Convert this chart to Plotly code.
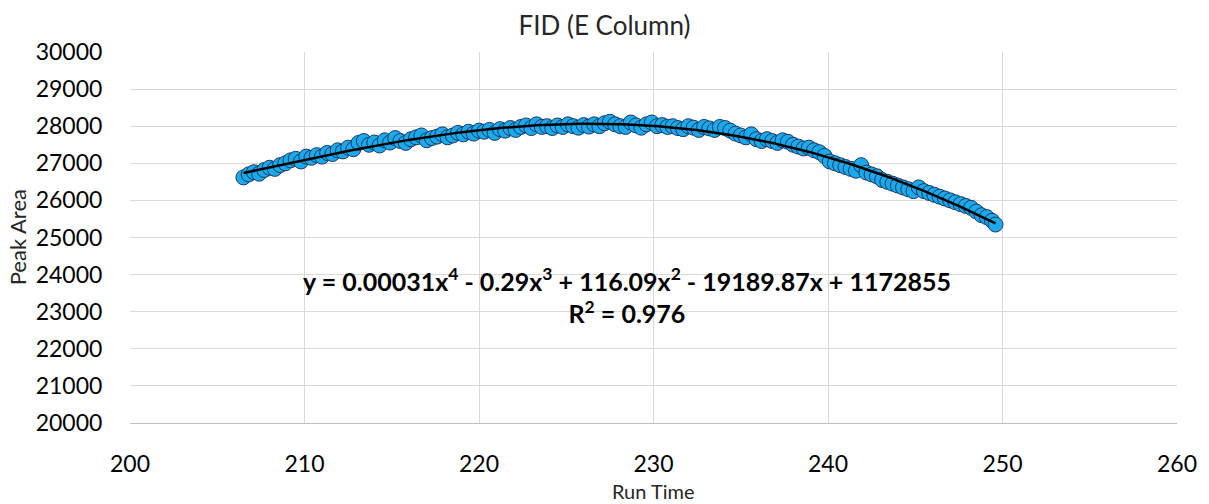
import numpy as np
import plotly.graph_objects as go

run_time = [
    206.5, 206.8, 207.1, 207.4, 207.7, 208.0, 208.3, 208.6, 208.9, 209.2,
    209.5, 209.8, 210.1, 210.4, 210.7, 211.0, 211.3, 211.6, 211.9, 212.2,
    212.5, 212.8, 213.1, 213.4, 213.7, 214.0, 214.3, 214.6, 214.9, 215.2,
    215.5, 215.8, 216.1, 216.4, 216.7, 217.0, 217.3, 217.6, 217.9, 218.2,
    218.5, 218.8, 219.1, 219.4, 219.7, 220.0, 220.3, 220.6, 220.9, 221.2,
    221.5, 221.8, 222.1, 222.4, 222.7, 223.0, 223.3, 223.6, 223.9, 224.2,
    224.5, 224.8, 225.1, 225.4, 225.7, 226.0, 226.3, 226.6, 226.9, 227.2,
    227.5, 227.8, 228.1, 228.4, 228.7, 229.0, 229.3, 229.6, 229.9, 230.2,
    230.5, 230.8, 231.1, 231.4, 231.7, 232.0, 232.3, 232.6, 232.9, 233.2,
    233.5, 233.8, 234.1, 234.4, 234.7, 235.0, 235.3, 235.6, 235.9, 236.2,
    236.5, 236.8, 237.1, 237.4, 237.7, 238.0, 238.3, 238.6, 238.9, 239.2,
    239.5, 239.8, 240.1, 240.4, 240.7, 241.0, 241.3, 241.6, 241.9, 242.2,
    242.5, 242.8, 243.1, 243.4, 243.7, 244.0, 244.3, 244.6, 244.9, 245.2,
    245.5, 245.8, 246.1, 246.4, 246.7, 247.0, 247.3, 247.6, 247.9, 248.2,
    248.5, 248.8, 249.1, 249.4, 249.6,
]

peak_area = [
    26620, 26700, 26760, 26720, 26820, 26880, 26850, 26950, 27000, 27080,
    27120, 27050, 27180, 27150, 27220, 27180, 27280, 27250, 27350, 27320,
    27420, 27380, 27550, 27600, 27500, 27560, 27480, 27620, 27560, 27680,
    27600, 27550, 27650, 27700, 27750, 27620, 27680, 27720, 27780, 27700,
    27750, 27820, 27780, 27850, 27800, 27880, 27850, 27900, 27820, 27920,
    27880, 27950, 27900, 27980, 28020, 27950, 28050, 27980, 28000, 27950,
    28020, 27980, 28050, 28000, 27960, 28030, 27990, 28050, 28000, 28080,
    28120, 28050, 28000, 27980, 28100, 28020, 27960, 28050, 28100, 28000,
    28030, 27980, 28000, 27950, 27920, 28000, 27960, 27900, 27980, 27940,
    27900, 27980, 27950, 27880, 27800, 27750, 27700, 27780, 27650, 27600,
    27650, 27600, 27550, 27620, 27580, 27500, 27450, 27400, 27420, 27350,
    27300, 27200, 27050, 27000, 26950, 26900, 26850, 26800, 26950, 26750,
    26700, 26650, 26550, 26500, 26450, 26400, 26350, 26300, 26250, 26350,
    26250, 26200, 26150, 26100, 26050, 26000, 25950, 25900, 25850, 25800,
    25700, 25600, 25550, 25450, 25350,
]

x_ticks = [200, 210, 220, 230, 240, 250, 260]
y_ticks = [20000, 21000, 22000, 23000, 24000, 25000, 26000, 27000, 28000, 29000, 30000]

x = np.array(run_time)
y = np.array(peak_area)
xm = x.mean()
coef = np.polyfit(x - xm, y, 4)
xf = np.linspace(x.min(), x.max(), 300)
yf = np.polyval(coef, xf - xm)

FONT = "Lato, 'Open Sans', sans-serif"

fig = go.Figure()
fig.add_trace(go.Scatter(
    x=run_time, y=peak_area, mode="markers",
    marker=dict(size=15, color="#1AA9EA", line=dict(color="#1F3864", width=1)),
    showlegend=False,
))
fig.add_trace(go.Scatter(
    x=xf, y=yf, mode="lines", line=dict(color="black", width=2.5),
    showlegend=False, hoverinfo="skip",
))

fig.add_annotation(
    x=228.5, y=23450, xref="x", yref="y",
    text="<b>y = 0.00031x<sup>4</sup> - 0.29x<sup>3</sup> + 116.09x<sup>2</sup> - 19189.87x + 1172855<br>R<sup>2</sup> = 0.976</b>",
    showarrow=False, align="center",
    font=dict(family=FONT, size=25, color="black"),
)

# axis titles
fig.add_annotation(x=0.5, y=-0.182, xref="paper", yref="paper", text="Run Time",
                   showarrow=False, xanchor="center", yanchor="middle",
                   font=dict(family=FONT, size=20, color="#262626"))
fig.add_annotation(x=-0.1072, y=0.5, xref="paper", yref="paper", text="Peak Area",
                   showarrow=False, xanchor="center", yanchor="middle", textangle=-90,
                   font=dict(family=FONT, size=22, color="#262626"))

fig.update_layout(
    width=1209, height=504,
    margin=dict(l=130, r=25, t=52, b=81),
    paper_bgcolor="white", plot_bgcolor="white",
    font=dict(family=FONT, color="black"),
    title=dict(text="FID (E Column)", x=0.5, xanchor="center", y=1 - 26 / 504, yanchor="middle",
               font=dict(family=FONT, size=26, color="#262626")),
    xaxis=dict(
        range=[200, 260], tickvals=x_ticks, ticktext=[str(v) for v in x_ticks],
        showgrid=True, gridcolor="#d9d9d9", gridwidth=1,
        zeroline=False, showline=True, linecolor="#bfbfbf", linewidth=1,
        ticks="outside", ticklen=20, tickcolor="rgba(0,0,0,0)",
        tickfont=dict(family=FONT, size=23, color="black"),
    ),
    yaxis=dict(
        range=[20000, 30000], tickvals=y_ticks, ticktext=[str(v) for v in y_ticks],
        showgrid=True, gridcolor="#d9d9d9", gridwidth=1,
        zeroline=False, showline=False,
        ticks="outside", ticklen=22, tickcolor="rgba(0,0,0,0)",
        tickfont=dict(family=FONT, size=23, color="black"),
    ),
)

fig.write_html("out.html")
